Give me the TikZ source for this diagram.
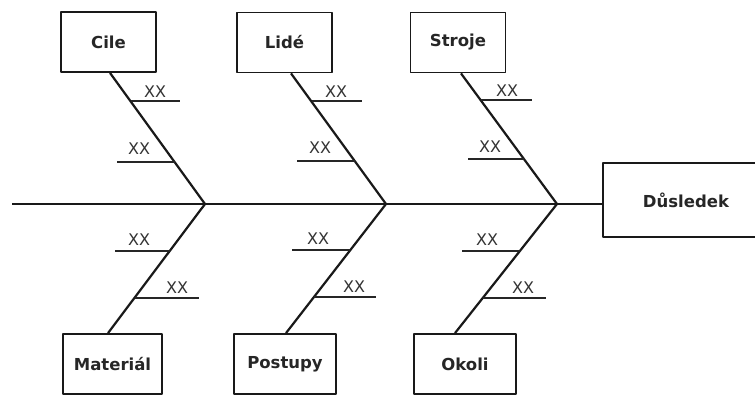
\documentclass[tikz,border=0pt]{standalone}
\usepackage{fontspec}
\setmainfont{DejaVu Sans}
\begin{document}
\begin{tikzpicture}[x=1pt,y=-1pt,
  line join=round,
  cause/.style={draw=black!90, line width=1.8pt, fill=white, inner sep=0pt,
    font=\fontsize{16.5}{16.5}\selectfont\bfseries, text=black!85},
  topbox/.style={cause, minimum width=95pt, minimum height=60pt},
  botbox/.style={cause, minimum width=102pt, minimum height=60pt},
  effect/.style={cause, minimum width=166pt, minimum height=74pt},
  bone/.style={draw=black!90, line width=2.2pt},
  rib/.style={draw=black!85, line width=1.8pt},
  xx/.style={font=\fontsize{16}{16}\selectfont, text=black!80, inner sep=0pt}]
\useasboundingbox[fill=white] (0,0) rectangle (755,394);

% effect and spine
\node[effect] (dus) at (686,200) {Důsledek};
\coordinate (tail) at (12,204);
\coordinate (j1) at (205,204);
\coordinate (j2) at (386,204);
\coordinate (j3) at (557,204);
\draw[bone] (tail) -- (dus.west |- tail);

% cause boxes
\node[topbox] (cile) at (108.5,42) {Cile};
\node[topbox] (lide) at (284.5,42.5) {Lidé};
\node[topbox] (stroje) at (458,42.5) {Stroje};
\node[botbox, minimum width=99pt] (mat) at (112.5,364) {Materiál};
\node[botbox] (post) at (285,364) {Postupy};
\node[botbox] (okoli) at (465,364) {Okoli};

% main bones
\draw[bone] ([xshift=1.5pt]cile.south) -- (j1);
\draw[bone] ([xshift=6.5pt]lide.south) -- (j2);
\draw[bone] ([xshift=3pt]stroje.south) -- (j3);
\draw[bone] (j1) -- ([xshift=-4.5pt]mat.north);
\draw[bone] (j2) -- ([xshift=1pt]post.north);
\draw[bone] (j3) -- ([xshift=-10pt]okoli.north);

% ribs - Cile
\coordinate (c1a) at (130.9,101); \coordinate (c1b) at (180,101);
\coordinate (c2a) at (174.8,162); \coordinate (c2b) at (117,162);
\draw[rib] (c1a) -- (c1b); \draw[rib] (c2a) -- (c2b);
\node[xx] (c1l) at (155,92) {XX};
\node[xx] (c2l) at (139,149) {XX};

% ribs - Lide
\coordinate (l1a) at (311.9,101); \coordinate (l1b) at (362,101);
\coordinate (l2a) at (355,161); \coordinate (l2b) at (297,161);
\draw[rib] (l1a) -- (l1b); \draw[rib] (l2a) -- (l2b);
\node[xx] (l1l) at (336,92) {XX};
\node[xx] (l2l) at (320,148) {XX};

% ribs - Stroje
\coordinate (s1a) at (481.4,100); \coordinate (s1b) at (532,100);
\coordinate (s2a) at (524.3,159); \coordinate (s2b) at (468,159);
\draw[rib] (s1a) -- (s1b); \draw[rib] (s2a) -- (s2b);
\node[xx] (s1l) at (507,91) {XX};
\node[xx] (s2l) at (490,147) {XX};

% ribs - Material
\coordinate (m1a) at (169.9,251); \coordinate (m1b) at (115,251);
\coordinate (m2a) at (134.9,298); \coordinate (m2b) at (199,298);
\draw[rib] (m1a) -- (m1b); \draw[rib] (m2a) -- (m2b);
\node[xx] (m1l) at (139,240) {XX};
\node[xx] (m2l) at (177,288) {XX};

% ribs - Postupy
\coordinate (p1a) at (350.3,250); \coordinate (p1b) at (292,250);
\coordinate (p2a) at (313.9,297); \coordinate (p2b) at (376,297);
\draw[rib] (p1a) -- (p1b); \draw[rib] (p2a) -- (p2b);
\node[xx] (p1l) at (318,239) {XX};
\node[xx] (p2l) at (354,287) {XX};

% ribs - Okoli
\coordinate (o1a) at (520.1,251); \coordinate (o1b) at (462,251);
\coordinate (o2a) at (483.2,298); \coordinate (o2b) at (546,298);
\draw[rib] (o1a) -- (o1b); \draw[rib] (o2a) -- (o2b);
\node[xx] (o1l) at (487,240) {XX};
\node[xx] (o2l) at (523,288) {XX};
\end{tikzpicture}
\end{document}
